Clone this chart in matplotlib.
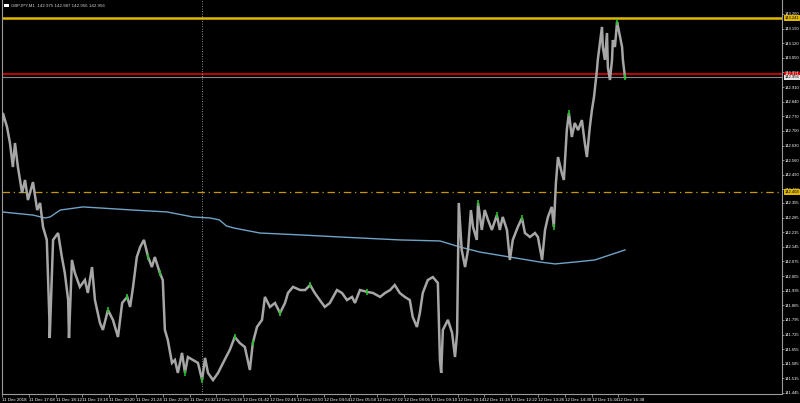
import numpy as np
import matplotlib
matplotlib.use("Agg")
import matplotlib.pyplot as plt
import matplotlib.transforms as mtransforms
from matplotlib import font_manager

# GBPJPY M1 - close prices (bar index, price)
bars = [0, 2, 12, 19, 26, 31, 38, 48, 55, 62, 74, 84, 91, 98, 107, 113, 114, 122, 134, 143,
        150, 158, 160, 167, 174, 186, 198, 205, 215, 222, 234, 241, 253, 265, 277, 287, 299,
        306, 313, 322, 330, 339, 349, 358, 365, 377, 384, 389, 396, 406, 413, 420, 430, 437,
        444, 456, 468, 478, 485, 492, 504, 516, 528, 544, 556, 568, 580, 592, 599, 609, 621,
        628, 640, 652, 664, 676, 683, 695, 712, 724, 736, 747, 759, 771, 783, 800, 812, 824,
        836, 843, 855, 872, 886, 903, 915, 927, 938, 950, 962, 974, 981, 991, 998, 1005, 1017,
        1029, 1041, 1046, 1049, 1053, 1065, 1075, 1082, 1087, 1091, 1098, 1106, 1113, 1120,
        1125, 1134, 1137, 1146, 1153, 1161, 1170, 1182, 1189, 1196, 1206, 1213, 1220, 1232,
        1242, 1249, 1261, 1273, 1280, 1290, 1297, 1304, 1313, 1318, 1323, 1328, 1337, 1342,
        1349, 1354, 1361, 1368, 1376, 1385, 1392, 1397, 1404, 1409, 1414, 1421, 1423, 1433,
        1435, 1440, 1445, 1447, 1452, 1457, 1459, 1464, 1469, 1473, 1481, 1483, 1488]
close = [142.728, 142.786, 142.719, 142.642, 142.527, 142.642, 142.527, 142.403, 142.465,
         142.369, 142.455, 142.321, 142.355, 142.240, 142.178, 141.809, 141.708, 142.178,
         142.211, 142.096, 142.020, 141.890, 141.708, 142.082, 142.020, 141.953, 141.986,
         141.924, 142.048, 141.890, 141.780, 141.747, 141.842, 141.795, 141.713, 141.876,
         141.905, 141.857, 141.953, 142.096, 142.144, 142.178, 142.096, 142.048, 142.096,
         142.020, 141.986, 141.747, 141.699, 141.589, 141.603, 141.541, 141.637, 141.541,
         141.617, 141.603, 141.589, 141.507, 141.613, 141.541, 141.507, 141.541, 141.589,
         141.651, 141.713, 141.684, 141.665, 141.555, 141.684, 141.761, 141.795, 141.905,
         141.857, 141.876, 141.828, 141.876, 141.924, 141.953, 141.938, 141.938, 141.962,
         141.924, 141.890, 141.857, 141.876, 141.938, 141.924, 141.890, 141.905, 141.876,
         141.938, 141.929, 141.924, 141.905, 141.924, 141.938, 141.962, 141.924, 141.905,
         141.890, 141.809, 141.761, 141.828, 141.924, 141.986, 142.000, 141.972, 141.603,
         141.541, 141.747, 141.795, 141.733, 141.617, 141.733, 142.355, 142.130, 142.048,
         142.130, 142.321, 142.240, 142.178, 142.355, 142.226, 142.321, 142.273, 142.226,
         142.297, 142.226, 142.288, 142.226, 142.082, 142.178, 142.240, 142.283, 142.211,
         142.192, 142.211, 142.192, 142.082, 142.226, 142.288, 142.336, 142.240, 142.451,
         142.575, 142.499, 142.465, 142.704, 142.786, 142.671, 142.738, 142.704, 142.752,
         142.642, 142.575, 142.719, 142.800, 142.863, 142.992, 143.040, 143.198, 143.102,
         143.040, 143.169, 143.006, 142.944, 143.040, 143.135, 143.102, 143.222, 143.183,
         143.102, 143.040, 142.956]

# moving average (light blue)
ma_bars = [0, 74, 103, 115, 139, 193, 234, 313, 394, 456, 497, 519, 536, 554, 616, 712,
           807, 950, 1046, 1094, 1141, 1213, 1285, 1321, 1368, 1416, 1488]
ma_vals = [142.312, 142.297, 142.283, 142.288, 142.321, 142.336, 142.331, 142.321, 142.312,
           142.288, 142.283, 142.274, 142.245, 142.235, 142.211, 142.202, 142.192, 142.178,
           142.173, 142.144, 142.120, 142.096, 142.072, 142.063, 142.072, 142.082, 142.130]

# up-bars drawn in green
green_bars = [253, 299, 349, 377, 437, 478, 556, 599, 664, 736, 872, 1137, 1182, 1242, 1318, 1354, 1469, 1488]
green_vals = [141.842, 141.905, 142.096, 142.020, 141.541, 141.507, 141.713, 141.684, 141.828,
              141.962, 141.929, 142.355, 142.297, 142.283, 142.240, 142.786, 143.222, 142.956]

time_labels = ["11 Dec 2018", "11 Dec 17:08", "11 Dec 18:12", "11 Dec 19:16", "11 Dec 20:20",
               "11 Dec 21:24", "11 Dec 22:28", "11 Dec 23:32", "12 Dec 00:38", "12 Dec 01:42",
               "12 Dec 02:46", "12 Dec 03:50", "12 Dec 04:54", "12 Dec 05:58", "12 Dec 07:02",
               "12 Dec 08:06", "12 Dec 09:10", "12 Dec 10:14", "12 Dec 11:18", "12 Dec 12:22",
               "12 Dec 13:26", "12 Dec 14:30", "12 Dec 15:34", "12 Dec 16:38"]
time_ticks = [64 * i for i in range(len(time_labels))]

price_ticks = [143.260, 143.190, 143.120, 143.050, 142.980, 142.910, 142.840, 142.770,
               142.700, 142.630, 142.560, 142.490, 142.420, 142.355, 142.285, 142.215,
               142.145, 142.075, 142.005, 141.935, 141.865, 141.795, 141.725, 141.655,
               141.585, 141.515, 141.445]

level_high = 143.241   # yellow
ask = 142.971          # red
bid = 142.956          # gray
level_mid = 142.408    # dash-dot
cursor_bar = 478

title = "GBPJPY,M1  142.975 142.987 142.956 142.956"

# narrow font for the tiny terminal labels, if there is one
names = {f.name for f in font_manager.fontManager.ttflist}
small_font = ["Liberation Sans Narrow", "DejaVu Sans"] if "Liberation Sans Narrow" in names else ["Liberation Sans", "DejaVu Sans"]
fs = 3.2
fs_price = 3.0

fig = plt.figure(figsize=(8, 4.03), dpi=100, facecolor="black")
ax = fig.add_axes([0.0025, 0.0223, 0.975, 0.9777], facecolor="black")
ax.set_xlim(0, 1863)
ax.set_ylim(141.440, 143.327)

ax.plot(bars, close, color="#a6a6a6", lw=1.8, solid_joinstyle="miter", zorder=3)
ax.plot(green_bars, green_vals, ls="none", marker="|", ms=4, mew=1.2, color="#22c022", zorder=4)
ax.plot(ma_bars, ma_vals, color="#6fa3c7", lw=1.0, zorder=2)

ax.axhline(level_high, color="#e0b800", lw=1.8, zorder=2)
ax.axhline(ask, color="#c00000", lw=1.4, zorder=2)
ax.axhline(bid, color="#8a8a8a", lw=0.8, zorder=2)
ax.axhline(level_mid, color="#c89800", lw=0.9, ls=(0, (6, 3, 1, 3)), zorder=2)
ax.axvline(cursor_bar, color="#bbbbbb", lw=0.6, ls=(0, (1, 2)), zorder=2)

ax.spines["top"].set_visible(False)
for side in ["left", "right", "bottom"]:
    ax.spines[side].set_color("#9a9a9a")
    ax.spines[side].set_linewidth(0.8)

ax.yaxis.tick_right()
ax.set_yticks(price_ticks)
ax.set_yticklabels([f"{v:.3f}" for v in price_ticks], family=small_font)
ax.set_xticks(time_ticks)
ax.set_xticklabels(time_labels, ha="left", family=small_font)
ax.tick_params(axis="y", colors="#9a9a9a", labelcolor="white", labelsize=fs_price,
               length=1.5, width=0.6, pad=0.8)
ax.tick_params(axis="x", colors="#9a9a9a", labelcolor="white", labelsize=fs,
               length=2, width=0.6, pad=1)

# price labels on the right axis
trans = mtransforms.blended_transform_factory(ax.transAxes, ax.transData)
for val, fc, tc in [(level_high, "#e0b800", "black"), (ask, "#d00000", "white"),
                    (bid, "#e8e8e8", "black"), (level_mid, "#e0b800", "black")]:
    ax.text(1.003, val, f"{val:.3f}", transform=trans, fontsize=fs_price, color=tc,
            family=small_font, va="center", ha="left", zorder=6, clip_on=False,
            bbox=dict(boxstyle="square,pad=0.15", fc=fc, ec="none"))

# chart header
fig.patches.append(plt.Rectangle((0.005, 0.983), 0.006, 0.008, transform=fig.transFigure,
                                 fc="white", ec="none"))
fig.text(0.014, 0.987, title, color="#d0d0d0", fontsize=fs, family=small_font,
         va="center", ha="left")

fig.savefig("out.png", dpi=100, facecolor="black")
